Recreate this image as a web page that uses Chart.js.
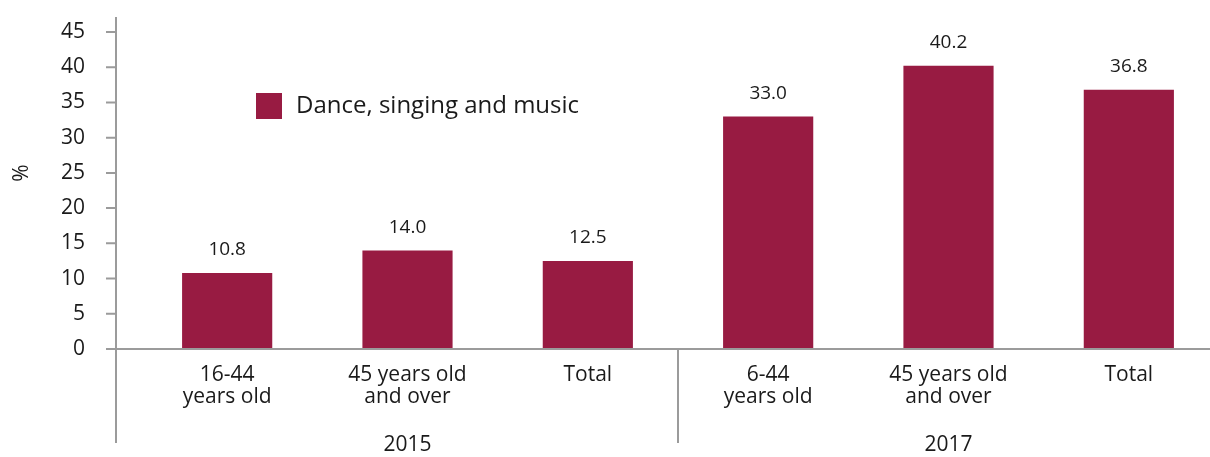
<!DOCTYPE html>
<html>
<head>
<meta charset="utf-8">
<script src="https://cdn.jsdelivr.net/npm/chart.js@4.4.0/dist/chart.umd.min.js"></script>
<style>
  html, body { margin: 0; padding: 0; background: #fff; overflow: hidden; }
</style>
</head>
<body>
<canvas id="myChart" width="1219" height="457"></canvas>
<script>
const categories = [
  ['16-44', 'years old'], ['45 years old', 'and over'], 'Total',
  ['6-44', 'years old'], ['45 years old', 'and over'], 'Total'
];
const years = ['2015', '2017'];
const groupSize = 3;
const values = [10.8, 14.0, 12.5, 33.0, 40.2, 36.8];
const yTicks = [0, 5, 10, 15, 20, 25, 30, 35, 40, 45];
const seriesName = 'Dance, singing and music';

const barColor = '#981b42';
const axisColor = '#9b9b9b';
const textColor = '#1a1a1a';
const fontFamily = '"Open Sans", sans-serif';

// axis lines, tick labels, year groups, value labels and the legend box
const decorations = {
  id: 'decorations',
  afterDraw(chart) {
    const { ctx, scales: { x, y } } = chart;
    const axisX = 116;
    const base = y.getPixelForValue(0);
    ctx.save();
    ctx.strokeStyle = axisColor;
    ctx.lineWidth = 2;
    ctx.beginPath();
    ctx.moveTo(axisX, 17);
    ctx.lineTo(axisX, 443);
    ctx.moveTo(106, base);
    ctx.lineTo(chart.width, base);
    yTicks.forEach(t => {
      const py = y.getPixelForValue(t);
      ctx.moveTo(106, py);
      ctx.lineTo(axisX, py);
    });
    for (let g = 1; g < years.length; g++) {
      const i = g * groupSize;
      const sep = (x.getPixelForValue(i - 1) + x.getPixelForValue(i)) / 2;
      ctx.moveTo(sep, base);
      ctx.lineTo(sep, 443);
    }
    ctx.stroke();

    ctx.fillStyle = textColor;
    ctx.textBaseline = 'middle';
    ctx.font = '21px ' + fontFamily;
    ctx.textAlign = 'right';
    yTicks.forEach(t => ctx.fillText(String(t), 85, y.getPixelForValue(t)));

    ctx.textAlign = 'center';
    years.forEach((yr, g) => {
      const a = x.getPixelForValue(g * groupSize);
      const b = x.getPixelForValue(g * groupSize + groupSize - 1);
      ctx.fillText(yr, (a + b) / 2, 445);
    });

    ctx.font = '19px ' + fontFamily;
    chart.getDatasetMeta(0).data.forEach((bar, i) => {
      ctx.fillText(values[i].toFixed(1), bar.x, bar.y - 23);
    });

    ctx.save();
    ctx.translate(22, 173);
    ctx.rotate(-Math.PI / 2);
    ctx.font = '21px ' + fontFamily;
    ctx.fillText('%', 0, 0);
    ctx.restore();

    ctx.fillStyle = barColor;
    ctx.fillRect(256, 93, 26, 26);
    ctx.fillStyle = textColor;
    ctx.textAlign = 'left';
    ctx.font = '24px ' + fontFamily;
    ctx.fillText(seriesName, 296, 106);
    ctx.restore();
  }
};

new Chart(document.getElementById('myChart'), {
  type: 'bar',
  data: {
    labels: categories,
    datasets: [{
      label: seriesName,
      data: values,
      backgroundColor: barColor,
      borderWidth: 0,
      categoryPercentage: 1,
      barPercentage: 0.5
    }]
  },
  options: {
    responsive: false,
    animation: false,
    layout: { padding: { top: 32, right: 0, left: 0, bottom: 0 } },
    plugins: {
      legend: { display: false },
      tooltip: { enabled: false }
    },
    scales: {
      x: {
        grid: { display: false, drawTicks: false },
        border: { display: false },
        ticks: {
          color: textColor,
          font: { family: fontFamily, size: 21, lineHeight: 1.05 },
          padding: 15,
          maxRotation: 0,
          autoSkip: false
        },
        afterFit(scale) { scale.height = 108; }
      },
      y: {
        min: 0,
        max: 45,
        grid: { display: false, drawTicks: false },
        border: { display: false },
        ticks: { display: false, stepSize: 5 },
        afterFit(scale) { scale.width = 137; }
      }
    }
  },
  plugins: [decorations]
});
</script>
</body>
</html>
